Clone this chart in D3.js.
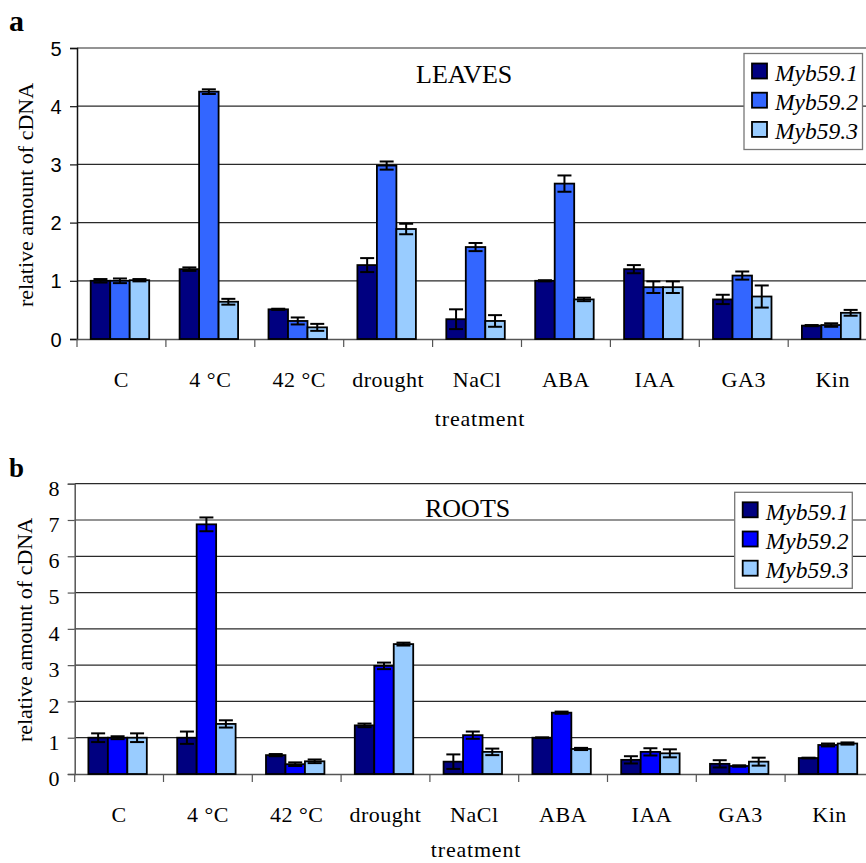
<!DOCTYPE html>
<html>
<head>
<meta charset="utf-8">
<script src="https://cdn.jsdelivr.net/npm/d3@7"></script>
<style>
  html, body { margin: 0; padding: 0; background: #fff; }
  svg { display: block; }
</style>
</head>
<body>
<svg id="chart" width="866" height="863"></svg>
<script>
// ---------- DATA ----------
const categories = ["C", "4 °C", "42 °C", "drought", "NaCl", "ABA", "IAA", "GA3", "Kin"];
const seriesNames = ["Myb59.1", "Myb59.2", "Myb59.3"];

// Panel a: LEAVES
const leavesMyb591 = [1.00, 1.20, 0.51, 1.27, 0.34, 1.00, 1.20, 0.68, 0.23];
const leavesMyb591Err = [0.03, 0.03, 0.01, 0.12, 0.17, 0.01, 0.07, 0.08, 0.01];
const leavesMyb592 = [1.00, 4.25, 0.31, 2.98, 1.58, 2.67, 0.89, 1.09, 0.24];
const leavesMyb592Err = [0.04, 0.04, 0.06, 0.07, 0.07, 0.14, 0.10, 0.07, 0.03];
const leavesMyb593 = [1.01, 0.64, 0.20, 1.89, 0.31, 0.68, 0.89, 0.73, 0.45];
const leavesMyb593Err = [0.02, 0.05, 0.06, 0.09, 0.10, 0.03, 0.10, 0.19, 0.05];
const leavesTicks = [0, 1, 2, 3, 4, 5];

// Panel b: ROOTS
const rootsMyb591 = [1.00, 1.00, 0.52, 1.34, 0.34, 1.00, 0.39, 0.28, 0.44];
const rootsMyb591Err = [0.12, 0.17, 0.03, 0.05, 0.20, 0.01, 0.10, 0.10, 0.01];
const rootsMyb592 = [1.00, 6.88, 0.27, 2.98, 1.07, 1.69, 0.61, 0.22, 0.80];
const rootsMyb592Err = [0.04, 0.19, 0.05, 0.09, 0.10, 0.03, 0.10, 0.02, 0.04];
const rootsMyb593 = [1.00, 1.38, 0.35, 3.58, 0.61, 0.69, 0.57, 0.34, 0.84];
const rootsMyb593Err = [0.12, 0.10, 0.05, 0.04, 0.09, 0.03, 0.11, 0.11, 0.03];
const rootsTicks = [0, 1, 2, 3, 4, 5, 6, 7, 8];

// ---------- DRAW ----------
const svg = d3.select("#chart");
const SERIF = "'Liberation Serif', 'Times New Roman', serif";
const SANS = "'Liberation Sans', Arial, sans-serif";

function drawPanel(cfg) {
  const g = svg.append("g");
  const x = d3.scaleBand().domain(categories).range([cfg.x0, cfg.x0 + 9 * cfg.step]).padding(0);
  const xs = d3.scaleBand().domain(seriesNames).range([0, x.bandwidth()]).paddingInner(0).paddingOuter(0.78);
  const y = d3.scaleLinear().domain([0, cfg.max]).range([cfg.yBottom, cfg.yTop]);

  // gridlines
  g.append("g").selectAll("line").data(cfg.ticks.filter(t => t > 0)).join("line")
    .attr("x1", cfg.x0).attr("x2", cfg.x0 + 9 * cfg.step)
    .attr("y1", d => y(d)).attr("y2", d => y(d))
    .attr("stroke", "#2a2a2a").attr("stroke-width", 1.2);

  // y axis
  const yAxis = d3.axisLeft(y).tickValues(cfg.ticks).tickSize(7).tickFormat(d3.format("d"));
  const ya = g.append("g").attr("transform", `translate(${cfg.x0},0)`).call(yAxis);
  ya.select(".domain").attr("stroke", cfg.axisColor).attr("stroke-width", 1.5);
  ya.selectAll(".tick line").attr("stroke", cfg.axisColor).attr("stroke-width", 1.2);
  ya.selectAll(".tick text")
    .attr("font-family", cfg.tickFont).attr("font-size", cfg.tickSize)
    .attr("fill", "#000").attr("x", cfg.tickX - cfg.x0).attr("dy", null)
    .attr("y", cfg.tickDy);

  // x axis
  const xAxis = d3.axisBottom(x).tickSize(0).tickFormat("");
  const xa = g.append("g").attr("transform", `translate(0,${cfg.yBottom})`).call(xAxis);
  xa.select(".domain").attr("stroke", "#555").attr("stroke-width", 1.5);
  xa.selectAll(".tick").remove();
  // boundary ticks between categories
  const bounds = d3.range(0, 10).map(i => cfg.x0 + i * x.step());
  xa.selectAll("line.bt").data(bounds).join("line").attr("class", "bt")
    .attr("x1", d => d).attr("x2", d => d).attr("y1", 0).attr("y2", 8)
    .attr("stroke", "#555").attr("stroke-width", 1.2);
  // category labels
  g.append("g").selectAll("text").data(categories).join("text")
    .attr("x", d => x(d) + x.bandwidth() / 2)
    .attr("y", cfg.yBottom + 47.5)
    .attr("text-anchor", "middle")
    .attr("font-family", SERIF).attr("font-size", 22).attr("letter-spacing", 0.5)
    .text(d => d);

  // bars
  const rows = [];
  categories.forEach((c, i) => {
    seriesNames.forEach((s, j) => {
      rows.push({ c, s, v: cfg.values[j][i], e: cfg.errors[j][i], color: cfg.colors[j] });
    });
  });
  const bw = xs.bandwidth();
  g.append("g").selectAll("rect").data(rows).join("rect")
    .attr("x", d => x(d.c) + xs(d.s) - 1.5)
    .attr("y", d => y(d.v))
    .attr("width", bw)
    .attr("height", d => y(0) - y(d.v))
    .attr("fill", d => d.color)
    .attr("stroke", "#000").attr("stroke-width", 1.8);

  // error bars
  const eb = g.append("g").attr("stroke", "#000").attr("stroke-width", 2);
  const cx = d => x(d.c) + xs(d.s) - 1.5 + bw / 2;
  eb.selectAll("line.v").data(rows).join("line").attr("class", "v")
    .attr("x1", cx).attr("x2", cx)
    .attr("y1", d => y(d.v - d.e)).attr("y2", d => y(d.v + d.e));
  eb.selectAll("line.t").data(rows).join("line").attr("class", "t")
    .attr("x1", d => cx(d) - 7).attr("x2", d => cx(d) + 7)
    .attr("y1", d => y(d.v + d.e)).attr("y2", d => y(d.v + d.e));
  eb.selectAll("line.b").data(rows).join("line").attr("class", "b")
    .attr("x1", d => cx(d) - 7).attr("x2", d => cx(d) + 7)
    .attr("y1", d => y(d.v - d.e)).attr("y2", d => y(d.v - d.e));

  // axis title x
  g.append("text").attr("x", cfg.xTitleX).attr("y", cfg.xTitleY)
    .attr("text-anchor", "middle")
    .attr("font-family", SERIF).attr("font-size", 22).attr("letter-spacing", 0.8)
    .text("treatment");

  // axis title y
  g.append("text")
    .attr("transform", `translate(${cfg.yTitleX},${cfg.yTitleY}) rotate(-90)`)
    .attr("text-anchor", "middle")
    .attr("font-family", SERIF).attr("font-size", 22)
    .text("relative amount of cDNA");

  // panel letter
  g.append("text").attr("x", 9).attr("y", cfg.letterY)
    .attr("font-family", SERIF).attr("font-size", cfg.letterSize).attr("font-weight", "bold")
    .text(cfg.letter);

  // panel title
  g.append("text").attr("x", cfg.titleX).attr("y", cfg.titleY)
    .attr("font-family", SERIF).attr("font-size", 26)
    .text(cfg.title);

  // legend
  const L = cfg.legend;
  const lg = g.append("g");
  lg.append("rect").attr("x", L.x).attr("y", L.y).attr("width", L.w).attr("height", L.h)
    .attr("fill", "#fff").attr("stroke", "#777").attr("stroke-width", 1.3);
  const items = lg.selectAll("g.item").data(seriesNames).join("g").attr("class", "item")
    .attr("transform", (d, i) => `translate(${L.x + 8},${L.y + 10 + i * 29.2})`);
  items.append("rect").attr("width", 15).attr("height", 15)
    .attr("fill", (d, i) => cfg.colors[i]).attr("stroke", "#000").attr("stroke-width", 1.8);
  items.append("text").attr("x", 23).attr("y", 17.5)
    .attr("font-family", SERIF).attr("font-style", "italic").attr("font-size", 23.5)
    .text(d => d);
}

drawPanel({
  letter: "a", letterY: 30.5, letterSize: 30,
  title: "LEAVES", titleX: 416, titleY: 83,
  x0: 77, step: 88.9, yBottom: 339, yTop: 48, max: 5, ticks: leavesTicks,
  axisColor: "#111",
  tickFont: SANS, tickSize: 20, tickX: 61.5, tickDy: 7,
  values: [leavesMyb591, leavesMyb592, leavesMyb593],
  errors: [leavesMyb591Err, leavesMyb592Err, leavesMyb593Err],
  colors: ["#000080", "#3366FF", "#99CCFF"],
  xTitleX: 480, xTitleY: 425.5, yTitleX: 33, yTitleY: 195,
  legend: { x: 744, y: 53.5, w: 118.5, h: 96 }
});

drawPanel({
  letter: "b", letterY: 476.5, letterSize: 27,
  title: "ROOTS", titleX: 425, titleY: 516.5,
  x0: 74.7, step: 88.8, yBottom: 774, yTop: 483.7, max: 8, ticks: rootsTicks,
  axisColor: "#555",
  tickFont: SERIF, tickSize: 22, tickX: 59.5, tickDy: 11.3,
  values: [rootsMyb591, rootsMyb592, rootsMyb593],
  errors: [rootsMyb591Err, rootsMyb592Err, rootsMyb593Err],
  colors: ["#000080", "#0000FF", "#99CCFF"],
  xTitleX: 476, xTitleY: 857, yTitleX: 31.5, yTitleY: 630,
  legend: { x: 734.7, y: 492.3, w: 117.6, h: 96 }
});
</script>
</body>
</html>
